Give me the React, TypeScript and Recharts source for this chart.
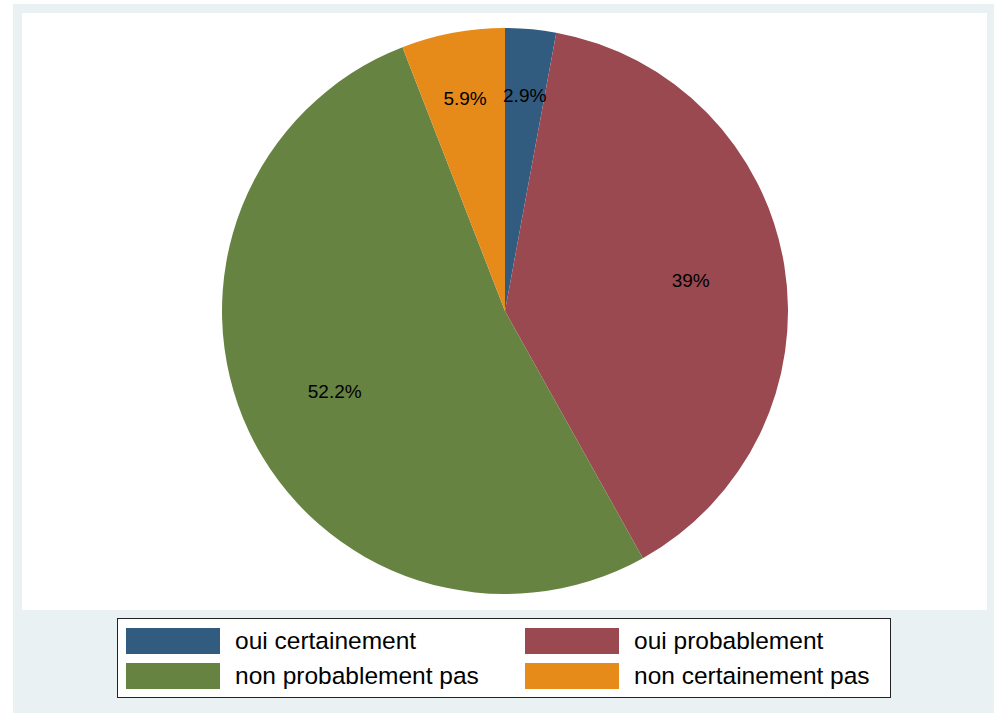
import React from 'react';
import { PieChart, Pie, Cell, Legend } from 'recharts';

const categories = ['oui certainement', 'oui probablement', 'non probablement pas', 'non certainement pas'];
const shares = [2.9, 39, 52.2, 5.9];
const colors = ['#325b80', '#9a4950', '#678342', '#e68a1a'];

const data = categories.map((name, i) => ({ name, value: shares[i] }));

const RAD = Math.PI / 180;

const SliceLabel = ({ cx, cy, midAngle, outerRadius, percent, value }: any) => {
    const r = outerRadius * (percent < 0.1 ? 0.765 : 0.665);
    const x = cx + r * Math.cos(-midAngle * RAD);
    const y = cy + r * Math.sin(-midAngle * RAD);
    return (
        <text x={x} y={y} textAnchor="middle" dominantBaseline="central" fill="#000" fontSize={19}
            fontFamily="'Liberation Sans', Arial, sans-serif">
            {`${value}%`}
        </text>
    );
};

const LegendBox = () => (
    <div style={{
        width: 774, height: 80, boxSizing: 'border-box', border: '1.5px solid #222', background: '#fff',
        display: 'grid', gridTemplateColumns: '399px 370px', gridAutoRows: '26px', rowGap: 9,
        padding: '9px 0 0 8px',
        fontFamily: "'Liberation Sans', Arial, sans-serif", fontSize: 24.5, color: '#000',
    }}>
        {categories.map((c, i) => (
            <div key={c} style={{ display: 'flex', alignItems: 'center', height: 26 }}>
                <div style={{ width: 94, height: 26, background: colors[i], marginRight: 15, flex: 'none' }} />
                <span style={{ whiteSpace: 'nowrap', lineHeight: '26px' }}>{c}</span>
            </div>
        ))}
    </div>
);

export default function App() {
    return (
        <div style={{ position: 'absolute', left: 0, top: 0, width: 995, height: 713, background: '#fff', overflow: 'hidden' }}>
            <div style={{ position: 'absolute', left: 13, top: 4, width: 981, height: 720, background: '#e9f1f3' }} />
            <div style={{ position: 'absolute', left: 22, top: 13, width: 965, height: 597, background: '#fff' }} />
            <div style={{ position: 'absolute', left: 0, top: 0 }}>
                <PieChart width={995} height={713} margin={{ top: 0, right: 0, bottom: 0, left: 0 }}>
                    <Pie
                        data={data}
                        dataKey="value"
                        nameKey="name"
                        cx={505}
                        cy={311}
                        outerRadius={283}
                        startAngle={90}
                        endAngle={-270}
                        stroke="none"
                        label={SliceLabel}
                        labelLine={false}
                        isAnimationActive={false}
                    >
                        {data.map((d, i) => (
                            <Cell key={d.name} fill={colors[i]} />
                        ))}
                    </Pie>
                    <Legend
                        content={() => <LegendBox />}
                        wrapperStyle={{ position: 'absolute', left: 117, top: 618, width: 774, height: 80 }}
                    />
                </PieChart>
            </div>
        </div>
    );
}
